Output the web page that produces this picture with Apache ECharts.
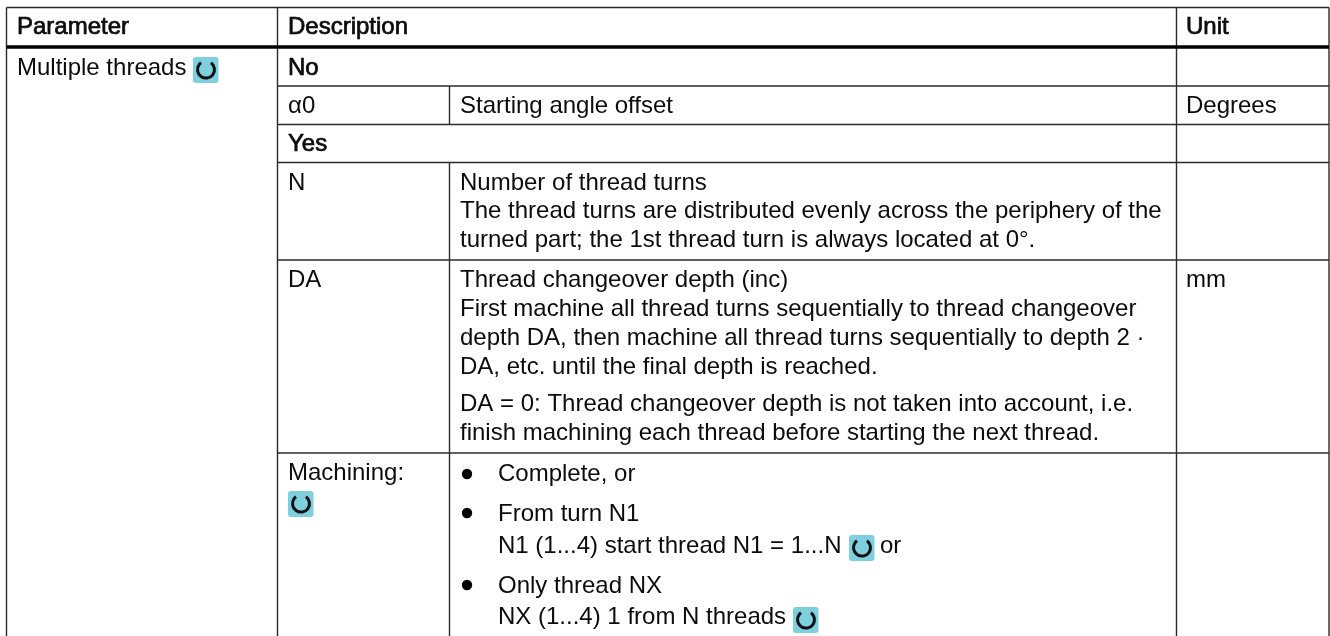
<!DOCTYPE html>
<html>
<head>
<meta charset="utf-8">
<title>Multiple threads</title>
<style>
html, body { margin: 0; padding: 0; background: #fff; }
#main { width: 1330px; height: 636px; }
</style>
<script src="https://cdn.jsdelivr.net/npm/echarts@6/dist/echarts.min.js"></script>
</head>
<body>
<div id="main"></div>
<script>
// table content
var headerLabels = ['Parameter', 'Description', 'Unit'];
var paramLabels = ['Multiple threads', 'α0', 'N', 'DA', 'Machining:'];
var boldRows = ['No', 'Yes'];
var descLabels = [
    'Starting angle offset',
    'Number of thread turns',
    'The thread turns are distributed evenly across the periphery of the',
    'turned part; the 1st thread turn is always located at 0°.',
    'Thread changeover depth (inc)',
    'First machine all thread turns sequentially to thread changeover',
    'depth DA, then machine all thread turns sequentially to depth 2 ·',
    'DA, etc. until the final depth is reached.',
    'DA = 0: Thread changeover depth is not taken into account, i.e.',
    'finish machining each thread before starting the next thread.'
];
var bulletLabels = [
    'Complete, or',
    'From turn N1',
    'N1 (1...4) start thread N1 = 1...N',
    'Only thread NX',
    'NX (1...4) 1 from N threads'
];
var trailingLabels = ['or'];
var unitLabels = ['Degrees', 'mm'];

// layout, in page pixels
var colX = [6.5, 277.5, 449.5, 1176.5, 1329];
var rowY = [7.5, 47, 86, 124.5, 162.5, 260, 453];
var bottomY = 636;
var headerBase = 36;
var paramPos = [[17, 77], [288, 115], [288, 192], [288, 289], [288, 482]];
var boldPos = [[288, 77], [288, 153]];
var descPos = [[460, 115], [460, 192], [460, 220], [460, 249], [460, 289], [460, 318], [460, 347], [460, 376], [460, 413], [460, 442]];
var bulletPos = [[498, 483], [498, 523], [498, 555], [498, 595], [498, 626]];
var bulletDots = [[467, 474], [467, 513], [467, 585]];
var trailingPos = [[880, 555]];
var unitPos = [[1186, 115], [1186, 289]];
var iconPos = [[193, 57], [288, 491], [849, 535], [793, 607]];

var fontFamily = '"Liberation Sans", Arial, sans-serif';
var lineColor = '#2b2b2b';
var els = [];

function addText(str, x, baseline, bold) {
    var style = {
        text: str,
        x: x,
        y: baseline - 8.3,
        fill: '#0c0c0c',
        fontFamily: fontFamily,
        fontSize: 24,
        align: 'left',
        verticalAlign: 'middle'
    };
    if (bold) {
        style.stroke = '#000';
        style.lineWidth = 0.7;
    }
    els.push({type: 'text', silent: true, style: style});
}

function addLine(x1, y1, x2, y2, w, color) {
    els.push({
        type: 'line',
        silent: true,
        shape: {x1: x1, y1: y1, x2: x2, y2: y2},
        style: {stroke: color || lineColor, lineWidth: w || 1.4}
    });
}

function addIcon(x, y) {
    els.push({
        type: 'rect',
        silent: true,
        shape: {x: x, y: y, width: 25.5, height: 26, r: 3},
        style: {fill: '#7fd0de'}
    });
    els.push({
        type: 'arc',
        silent: true,
        shape: {cx: x + 13, cy: y + 12.6, r: 8.5, startAngle: -0.95, endAngle: 4.09, clockwise: true},
        style: {fill: 'none', stroke: '#111', lineWidth: 3}
    });
}

// outer frame and column lines
addLine(colX[0], rowY[0], colX[4], rowY[0]);
addLine(colX[0], rowY[0], colX[0], bottomY);
addLine(colX[4], rowY[0], colX[4], bottomY);
addLine(colX[1], rowY[0], colX[1], bottomY);
addLine(colX[3], rowY[0], colX[3], bottomY);

// header rule is heavier than the others
addLine(colX[0], rowY[1], colX[4], rowY[1], 3.6, '#000');

// row lines start at the description column
for (var i = 2; i < rowY.length; i++) {
    addLine(colX[1], rowY[i], colX[4], rowY[i]);
}

// the sub column is missing in the No / Yes rows
addLine(colX[2], rowY[2], colX[2], rowY[3]);
addLine(colX[2], rowY[4], colX[2], bottomY);

addText(headerLabels[0], 17, headerBase, true);
addText(headerLabels[1], 288, headerBase, true);
addText(headerLabels[2], 1186, headerBase, true);

for (var i = 0; i < paramLabels.length; i++) {
    addText(paramLabels[i], paramPos[i][0], paramPos[i][1]);
}
for (var i = 0; i < boldRows.length; i++) {
    addText(boldRows[i], boldPos[i][0], boldPos[i][1], true);
}
for (var i = 0; i < descLabels.length; i++) {
    addText(descLabels[i], descPos[i][0], descPos[i][1]);
}
for (var i = 0; i < bulletLabels.length; i++) {
    addText(bulletLabels[i], bulletPos[i][0], bulletPos[i][1]);
}
for (var i = 0; i < trailingLabels.length; i++) {
    addText(trailingLabels[i], trailingPos[i][0], trailingPos[i][1]);
}
for (var i = 0; i < unitLabels.length; i++) {
    addText(unitLabels[i], unitPos[i][0], unitPos[i][1]);
}
for (var i = 0; i < bulletDots.length; i++) {
    els.push({
        type: 'circle',
        silent: true,
        shape: {cx: bulletDots[i][0], cy: bulletDots[i][1], r: 5.2},
        style: {fill: '#000'}
    });
}
for (var i = 0; i < iconPos.length; i++) {
    addIcon(iconPos[i][0], iconPos[i][1]);
}

var myChart = echarts.init(document.getElementById('main'));
myChart.setOption({
    backgroundColor: '#fff',
    animation: false,
    graphic: {elements: els}
});
</script>
</body>
</html>
